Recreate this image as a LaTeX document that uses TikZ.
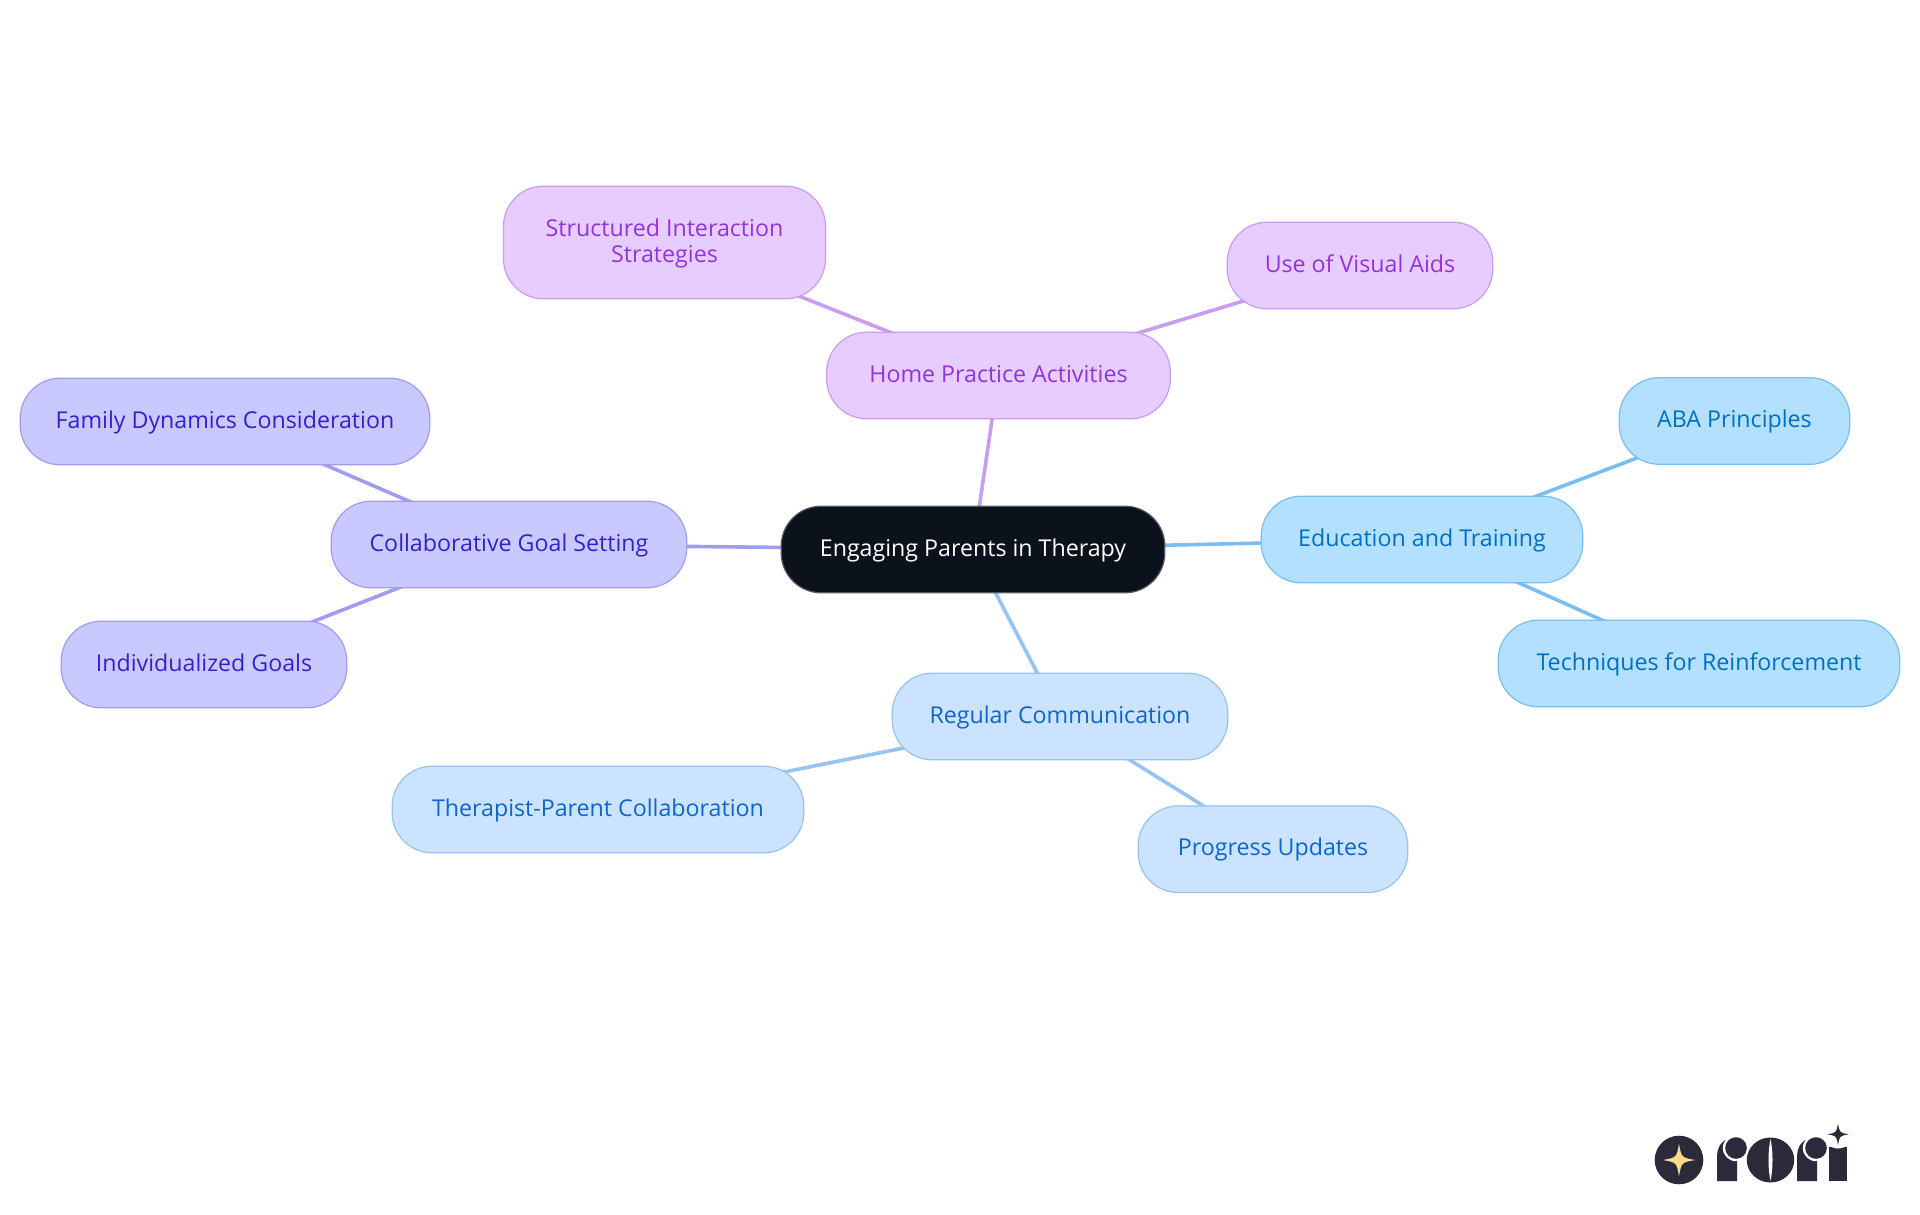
\documentclass[tikz,border=0pt]{standalone}
\usepackage{fontspec}
\setmainfont{Open Sans}
\usetikzlibrary{backgrounds}
\definecolor{homeF}{HTML}{E6CCFF}\definecolor{homeD}{HTML}{C99CF0}\definecolor{homeT}{HTML}{9333DD}
\definecolor{colF}{HTML}{C9C9FF}\definecolor{colD}{HTML}{A09CF0}\definecolor{colT}{HTML}{3322CC}
\definecolor{eduF}{HTML}{B3E0FF}\definecolor{eduD}{HTML}{78BEF0}\definecolor{eduT}{HTML}{0070C0}
\definecolor{regF}{HTML}{CCE3FF}\definecolor{regD}{HTML}{96C3F0}\definecolor{regT}{HTML}{0D66CC}
\definecolor{rootF}{HTML}{0B121B}\definecolor{logoD}{HTML}{2A2A3A}\definecolor{logoS}{HTML}{FBD98B}
\newcommand{\rstar}[4]{\fill[#4] (#1,#2-#3) .. controls (#1+0.15*#3,#2-0.15*#3) .. (#1+#3,#2) .. controls (#1+0.15*#3,#2+0.15*#3) .. (#1,#2+#3) .. controls (#1-0.15*#3,#2+0.15*#3) .. (#1-#3,#2) .. controls (#1-0.15*#3,#2-0.15*#3) .. cycle;}
\newcommand{\logor}[1]{%
\fill[logoD] (#1,1181) -- (#1,1158) .. controls (#1,1146) and (#1+5,1139) .. (#1+16,1138) -- (#1+20,1145) -- (#1+20,1181) -- cycle;
\fill[white] (#1+19,1148) circle (13.2);
\fill[logoD] (#1+19,1148) circle (10.8);
\fill[logoD] (#1,1181) rectangle (#1+20,1166);}
\tikzset{
 mm/.style={rounded corners=40,minimum height=86.6,inner sep=0pt,line width=1.2pt,align=center,text height=18,text depth=4.6,font=\fontsize{23.2}{26}\selectfont},
 homeN/.style={mm,fill=homeF,draw=homeD,text=homeT},
 colN/.style={mm,fill=colF,draw=colD,text=colT},
 eduN/.style={mm,fill=eduF,draw=eduD,text=eduT},
 regN/.style={mm,fill=regF,draw=regD,text=regT},
 rootN/.style={mm,fill=rootF,draw=rootF!70!white,text=white},
 link/.style={line width=3.6pt}
}
\begin{document}
\begin{tikzpicture}[x=1pt,y=-1pt]
\useasboundingbox (0,0) rectangle (1920,1215);
\node[rootN,minimum width=383.6] (root) at (973,549.5) {Engaging Parents in Therapy};
\node[homeN,minimum width=343.6] (home) at (998.5,375.5) {Home Practice Activities};
\node[homeN,minimum width=322,minimum height=112.6,text height=,text depth=3.6] (struct) at (664.5,242.5) {Structured Interaction\\Strategies};
\node[homeN,minimum width=265.6] (visual) at (1360,265.5) {Use of Visual Aids};
\node[colN,minimum width=355.6] (collab) at (509,544.5) {Collaborative Goal Setting};
\node[colN,minimum width=409.6] (family) at (225,421.5) {Family Dynamics Consideration};
\node[colN,minimum width=285.6] (indiv) at (204,664.5) {Individualized Goals};
\node[eduN,minimum width=321.6] (edu) at (1422,539.5) {Education and Training};
\node[eduN,minimum width=230.6] (aba) at (1734.5,421) {ABA Principles};
\node[eduN,minimum width=401.6] (tech) at (1699,663.5) {Techniques for Reinforcement};
\node[regN,minimum width=335.6] (reg) at (1060,716.5) {Regular Communication};
\node[regN,minimum width=411.6] (ther) at (598,809.5) {Therapist-Parent Collaboration};
\node[regN,minimum width=269.6] (prog) at (1273,849.2) {Progress Updates};
\begin{pgfonlayer}{background}
\draw[link,homeD] (root.center) -- (home.center);
\draw[link,homeD] (home.center) -- (struct.center);
\draw[link,homeD] (home.center) -- (visual.center);
\draw[link,colD] (root.center) -- (collab.center);
\draw[link,colD] (collab.center) -- (family.center);
\draw[link,colD] (collab.center) -- (indiv.center);
\draw[link,eduD] (root.center) -- (edu.center);
\draw[link,eduD] (edu.center) -- (aba.center);
\draw[link,eduD] (edu.center) -- (tech.center);
\draw[link,regD] (root.center) -- (reg.center);
\draw[link,regD] (reg.center) -- (ther.center);
\draw[link,regD] (reg.center) -- (prog.center);
\end{pgfonlayer}
% logo
\fill[logoD] (1679,1160) circle (24.3);
\rstar{1679}{1160}{16.3}{logoS}
\logor{1717}
\fill[logoD] (1770.5,1160) ellipse (23.7 and 22.5);
\fill[white] (1770.5,1139) .. controls (1773.2,1152) and (1773.2,1168) .. (1770.5,1181) .. controls (1767.8,1168) and (1767.8,1152) .. cycle;
\logor{1797}
\fill[logoD] (1829,1147) rectangle (1847,1181);
\fill[white] (1838,1134) circle (14.5);
\rstar{1838}{1134.3}{10.7}{logoD}
\end{tikzpicture}
\end{document}
